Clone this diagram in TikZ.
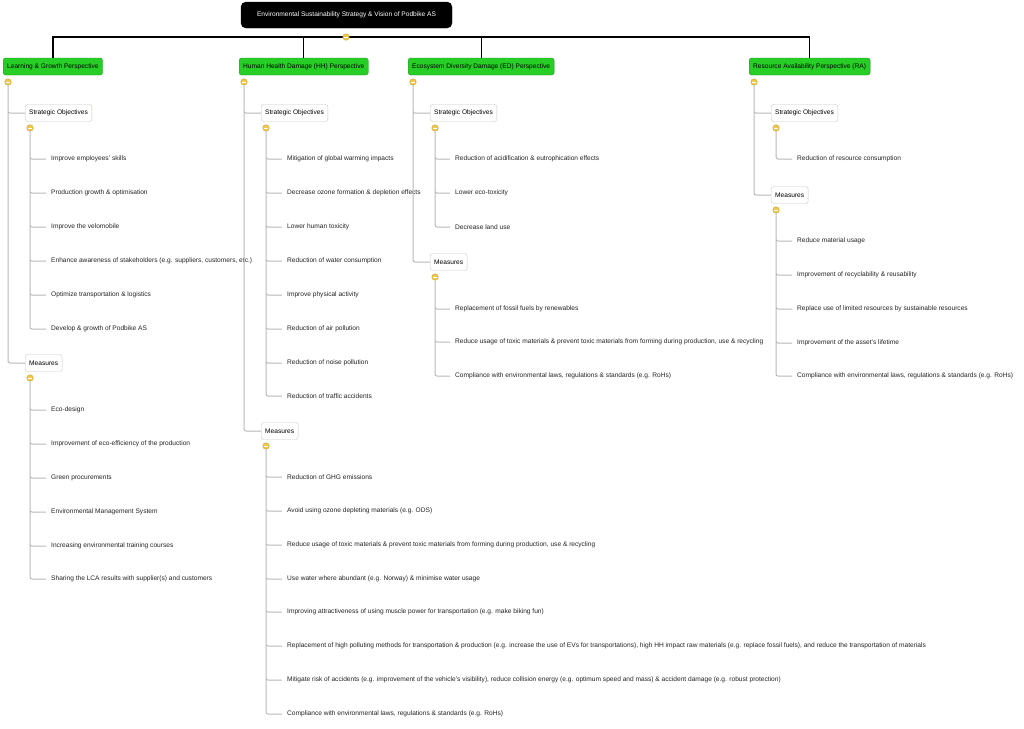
\documentclass[tikz,border=0pt]{standalone}
\usepackage{fontspec}
\setmainfont{Liberation Sans}
\definecolor{persgreen}{RGB}{38,206,38}
\definecolor{persedge}{RGB}{30,150,30}
\definecolor{boxedge}{RGB}{200,200,190}
\definecolor{linegrey}{RGB}{185,185,185}
\definecolor{knobfill}{RGB}{240,200,80}
\definecolor{knobedge}{RGB}{205,160,40}
\definecolor{itemtext}{RGB}{35,35,35}
\begin{document}
\begin{tikzpicture}[x=1pt,y=-1pt,font=\fontsize{6.6}{7.8}\selectfont,
  rootbox/.style={draw=black,fill=black,text=white,rounded corners=5pt,minimum width=211pt,minimum height=26pt},
  persp/.style={draw=persedge,fill=persgreen,rounded corners=2.5pt,minimum height=17pt,inner xsep=4pt,anchor=west},
  group/.style={draw=boxedge,fill=white,rounded corners=2.5pt,minimum height=17pt,inner xsep=4pt,anchor=west},
  item/.style={anchor=west,inner xsep=5pt,inner ysep=1pt,text=itemtext},
  knob/.style={circle,fill=knobfill,draw=knobedge,line width=0.4pt,inner sep=0pt,minimum size=6.5pt,
    path picture={\draw[white,line width=0.6pt] ([xshift=-1.7pt]path picture bounding box.center) -- ([xshift=1.7pt]path picture bounding box.center);}},
  trunk/.style={line width=1.3pt},
  branch/.style={draw=linegrey,line width=1pt,rounded corners=2pt}]

\useasboundingbox (0,0) rectangle (1024,728);

% root and perspectives
\node[rootbox] (root) at (346.5,15) {Environmental Sustainability Strategy \& Vision of Podbike AS};
\node[persp] (lg) at (3,66.5) {Learning \& Growth Perspective};
\node[persp] (hh) at (239,66.5) {Human Health Damage (HH) Perspective};
\node[persp] (ed) at (408,66.5) {Ecosystem Diversity Damage (ED) Perspective};
\node[persp] (ra) at (749,66.5) {Resource Availability Perspective (RA)};
\coordinate (hub) at (346,37);
\draw[trunk] (hub) -| (lg.north);
\draw[trunk] (hub) -| (hh.north);
\draw[trunk] (hub) -| (ed.north);
\draw[trunk] (hub) -| (ra.north);
\node[knob] (rootk) at (hub) {};

% Learning & Growth
\node[knob] (lgk) at (8,82) {};
\node[group] (lgso) at (25,113) {Strategic Objectives};
\node[knob] (lgsk) at (30,128) {};
\node[item] (lgs1) at (46,159) {Improve employees' skills};
\node[item] (lgs2) at (46,193) {Production growth \& optimisation};
\node[item] (lgs3) at (46,227) {Improve the velomobile};
\node[item] (lgs4) at (46,261) {Enhance awareness of stakeholders (e.g. suppliers, customers, etc.)};
\node[item] (lgs5) at (46,295) {Optimize transportation \& logistics};
\node[item] (lgs6) at (46,329) {Develop \& growth of Podbike AS};
\node[group] (lgme) at (25,363) {Measures};
\node[knob] (lgmk) at (30,378) {};
\node[item] (lgm1) at (46,410) {Eco-design};
\node[item] (lgm2) at (46,444) {Improvement of eco-efficiency of the production};
\node[item] (lgm3) at (46,478) {Green procurements};
\node[item] (lgm4) at (46,512) {Environmental Management System};
\node[item] (lgm5) at (46,546) {Increasing environmental training courses};
\node[item] (lgm6) at (46,579) {Sharing the LCA results with supplier(s) and customers};
\draw[branch] (lgk.south) |- (lgso.west) (lgk.south) |- (lgme.west);
\draw[branch] (lgsk.south) |- (lgs1.west) (lgsk.south) |- (lgs2.west) (lgsk.south) |- (lgs3.west)
  (lgsk.south) |- (lgs4.west) (lgsk.south) |- (lgs5.west) (lgsk.south) |- (lgs6.west);
\draw[branch] (lgmk.south) |- (lgm1.west) (lgmk.south) |- (lgm2.west) (lgmk.south) |- (lgm3.west)
  (lgmk.south) |- (lgm4.west) (lgmk.south) |- (lgm5.west) (lgmk.south) |- (lgm6.west);

% Human Health Damage
\node[knob] (hhk) at (244,82) {};
\node[group] (hhso) at (261,113) {Strategic Objectives};
\node[knob] (hhsk) at (266,128) {};
\node[item] (hhs1) at (282,159) {Mitigation of global warming impacts};
\node[item] (hhs2) at (282,193) {Decrease ozone formation \& depletion effects};
\node[item] (hhs3) at (282,227) {Lower human toxicity};
\node[item] (hhs4) at (282,261) {Reduction of water consumption};
\node[item] (hhs5) at (282,295) {Improve physical activity};
\node[item] (hhs6) at (282,329) {Reduction of air pollution};
\node[item] (hhs7) at (282,363) {Reduction of noise pollution};
\node[item] (hhs8) at (282,396) {Reduction of traffic accidents};
\node[group] (hhme) at (261,431) {Measures};
\node[knob] (hhmk) at (266,446) {};
\node[item] (hhm1) at (282,477) {Reduction of GHG emissions};
\node[item] (hhm2) at (282,511) {Avoid using ozone depleting materials (e.g. ODS)};
\node[item] (hhm3) at (282,545) {Reduce usage of toxic materials \& prevent toxic materials from forming during production, use \& recycling};
\node[item] (hhm4) at (282,579) {Use water where abundant (e.g. Norway) \& minimise water usage};
\node[item] (hhm5) at (282,612) {Improving attractiveness of using muscle power for transportation (e.g. make biking fun)};
\node[item] (hhm6) at (282,646) {Replacement of high polluting methods for transportation \& production (e.g. increase the use of EVs for transportations), high HH impact raw materials (e.g. replace fossil fuels), and reduce the transportation of materials};
\node[item] (hhm7) at (282,680) {Mitigate risk of accidents (e.g. improvement of the vehicle's visibility), reduce collision energy (e.g. optimum speed and mass) \& accident damage (e.g. robust protection)};
\node[item] (hhm8) at (282,714) {Compliance with environmental laws, regulations \& standards (e.g. RoHs)};
\draw[branch] (hhk.south) |- (hhso.west) (hhk.south) |- (hhme.west);
\draw[branch] (hhsk.south) |- (hhs1.west) (hhsk.south) |- (hhs2.west) (hhsk.south) |- (hhs3.west)
  (hhsk.south) |- (hhs4.west) (hhsk.south) |- (hhs5.west) (hhsk.south) |- (hhs6.west)
  (hhsk.south) |- (hhs7.west) (hhsk.south) |- (hhs8.west);
\draw[branch] (hhmk.south) |- (hhm1.west) (hhmk.south) |- (hhm2.west) (hhmk.south) |- (hhm3.west)
  (hhmk.south) |- (hhm4.west) (hhmk.south) |- (hhm5.west) (hhmk.south) |- (hhm6.west)
  (hhmk.south) |- (hhm7.west) (hhmk.south) |- (hhm8.west);

% Ecosystem Diversity Damage
\node[knob] (edk) at (413,82) {};
\node[group] (edso) at (430,113) {Strategic Objectives};
\node[knob] (edsk) at (435,128) {};
\node[item] (eds1) at (450,159) {Reduction of acidification \& eutrophication effects};
\node[item] (eds2) at (450,193) {Lower eco-toxicity};
\node[item] (eds3) at (450,227) {Decrease land use};
\node[group] (edme) at (430,262) {Measures};
\node[knob] (edmk) at (435,277) {};
\node[item] (edm1) at (450,309) {Replacement of fossil fuels by renewables};
\node[item] (edm2) at (450,342) {Reduce usage of toxic materials \& prevent toxic materials from forming during production, use \& recycling};
\node[item] (edm3) at (450,376) {Compliance with environmental laws, regulations \& standards (e.g. RoHs)};
\draw[branch] (edk.south) |- (edso.west) (edk.south) |- (edme.west);
\draw[branch] (edsk.south) |- (eds1.west) (edsk.south) |- (eds2.west) (edsk.south) |- (eds3.west);
\draw[branch] (edmk.south) |- (edm1.west) (edmk.south) |- (edm2.west) (edmk.south) |- (edm3.west);

% Resource Availability
\node[knob] (rak) at (754,82) {};
\node[group] (raso) at (771,113) {Strategic Objectives};
\node[knob] (rask) at (776,128) {};
\node[item] (ras1) at (792,159) {Reduction of resource consumption};
\node[group] (rame) at (771,195) {Measures};
\node[knob] (ramk) at (776,210) {};
\node[item] (ram1) at (792,241) {Reduce material usage};
\node[item] (ram2) at (792,275) {Improvement of recyclability \& reusability};
\node[item] (ram3) at (792,309) {Replace use of limited resources by sustainable resources};
\node[item] (ram4) at (792,343) {Improvement of the asset's lifetime};
\node[item] (ram5) at (792,376) {Compliance with environmental laws, regulations \& standards (e.g. RoHs)};
\draw[branch] (rak.south) |- (raso.west) (rak.south) |- (rame.west);
\draw[branch] (rask.south) |- (ras1.west);
\draw[branch] (ramk.south) |- (ram1.west) (ramk.south) |- (ram2.west) (ramk.south) |- (ram3.west)
  (ramk.south) |- (ram4.west) (ramk.south) |- (ram5.west);
\end{tikzpicture}
\end{document}
